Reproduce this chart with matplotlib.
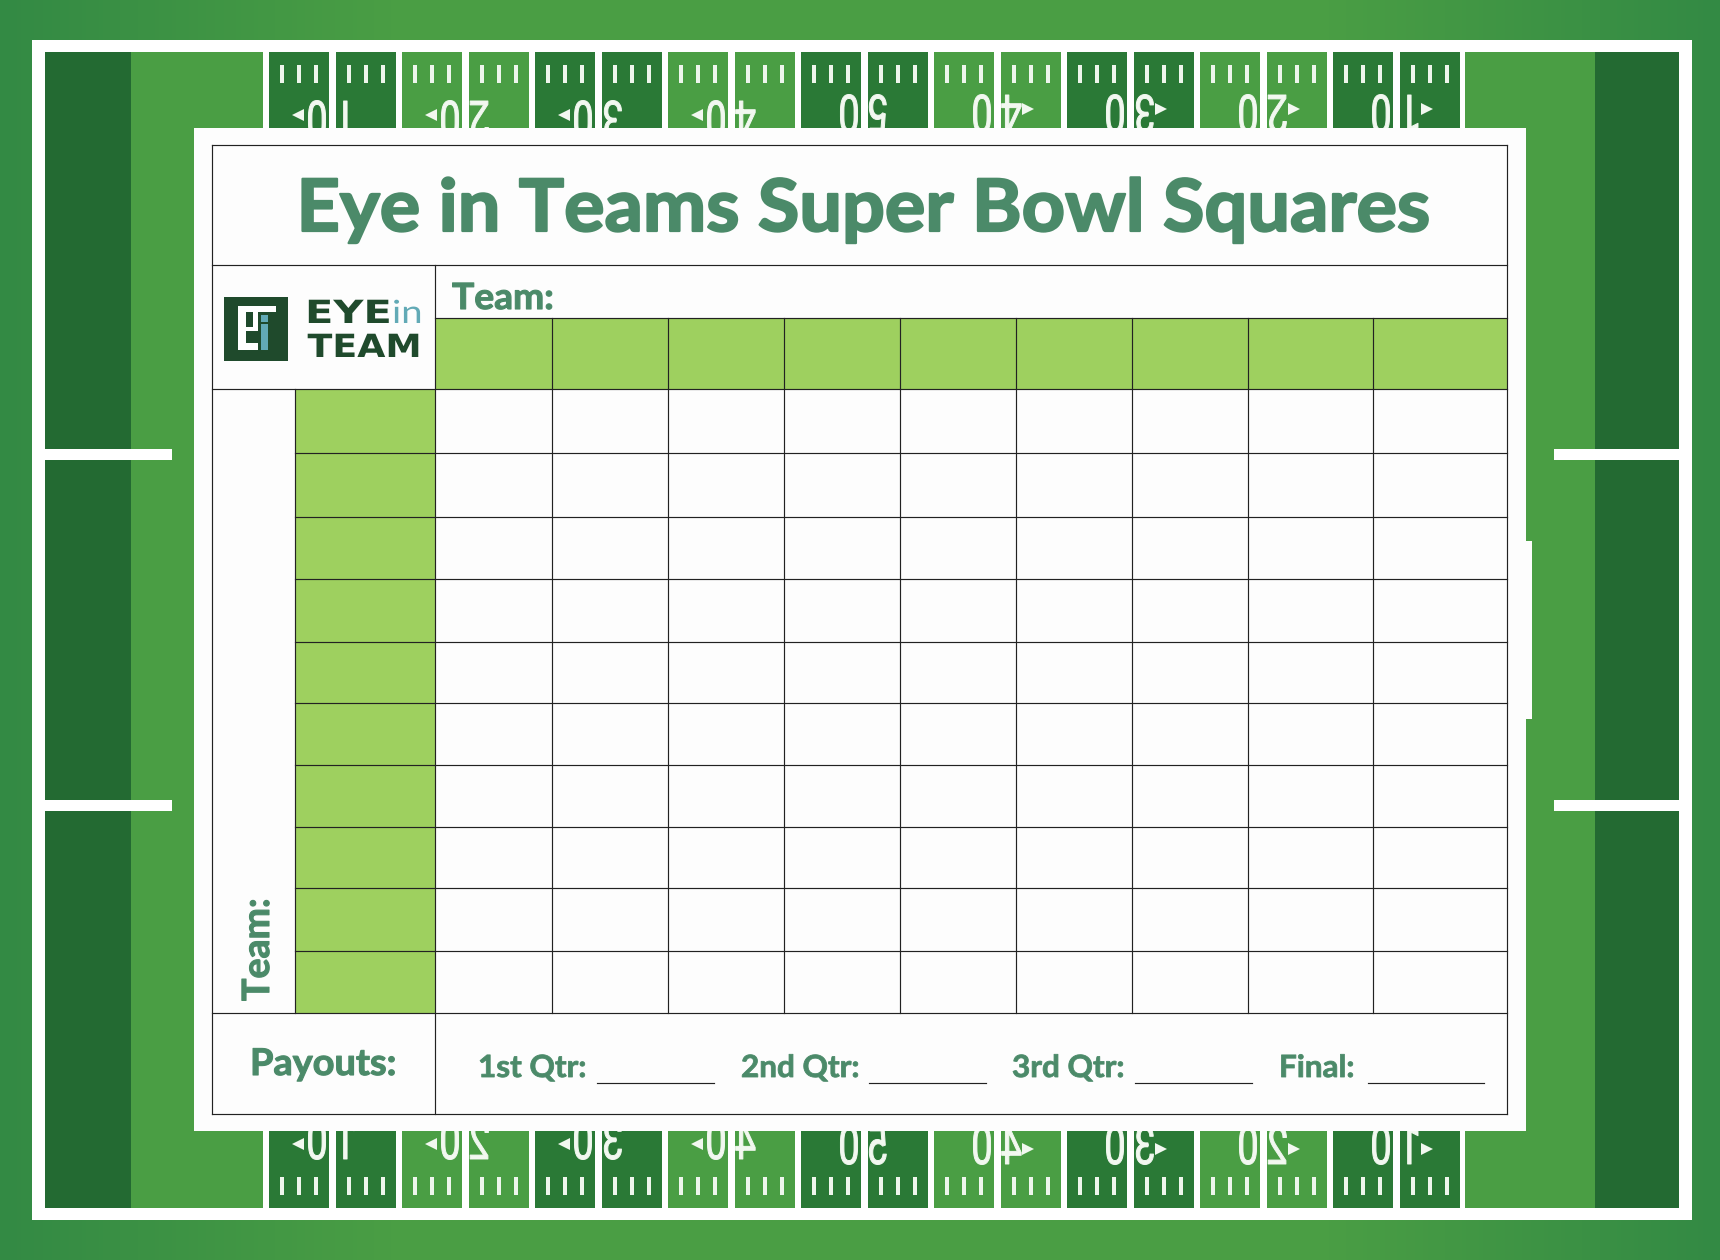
import numpy as np
import matplotlib
matplotlib.use('Agg')
import matplotlib.pyplot as plt
from matplotlib.patches import Rectangle
from matplotlib.patheffects import AbstractPathEffect
from matplotlib.transforms import Affine2D

# Everything is laid out in reference pixels, the axes fill the whole figure
W, H = 1720, 1260

title = 'Eye in Teams Super Bowl Squares'
team_label = 'Team:'
payouts_label = 'Payouts:'
quarter_labels = ['1st Qtr:', '2nd Qtr:', '3rd Qtr:', 'Final:']
quarter_text_x = [478, 741, 1012, 1279]
quarter_line_x = [(597, 714), (869, 986), (1135, 1252), (1368, 1484)]

yard_numbers = [10, 20, 30, 40, 50, 40, 30, 20, 10]
arrow_sides = ['left', 'left', 'left', 'left', None, 'right', 'right', 'right', 'right']

col_lines = [435.2, 552, 668, 784, 900, 1016, 1132, 1248, 1373, 1507.3]
row_lines = [389.3, 452.9, 516.5, 579, 641.5, 702.9, 765.4, 826.8, 888.3, 950.8, 1012.5]

GREEN_BG = '#4a9e44'
GREEN_EDGE = '#338a44'
TILE_DARK = '#2a7936'
BAND_DARK = '#236a32'
CELL_GREEN = '#9ed05f'
TEXT_GREEN = '#4b8a69'
LOGO_DARK = '#1f4a2c'
LOGO_TEAL = '#62aab6'
CARD = '#fdfdfd'
LINE = '#222222'
FONT = 'Lato'


class ScaleX(AbstractPathEffect):
    # squeeze or mirror a real text object around a vertical line in display space,
    # stroke thickens the glyphs a bit
    def __init__(self, cx, sx, stroke=0):
        super().__init__()
        self.cx = cx
        self.sx = sx
        self.stroke = stroke

    def draw_path(self, renderer, gc, tpath, affine, rgbFace=None):
        flip = Affine2D().translate(-self.cx, 0).scale(self.sx, 1).translate(self.cx, 0)
        gc0 = renderer.new_gc()
        gc0.copy_properties(gc)
        gc0.set_linewidth(self.stroke)
        gc0.set_foreground(rgbFace)
        renderer.draw_path(gc0, tpath, affine + flip, rgbFace)
        gc0.restore()


def rect(ax, x0, y0, x1, y1, color, z=1):
    ax.add_patch(Rectangle((x0, y0), x1 - x0, y1 - y0, facecolor=color, edgecolor='none', zorder=z))


def yard_digit(ax, x, y, digit, top):
    if top:
        effect = ScaleX(x, 0.72, 0.7)
        ax.text(x, y, digit, rotation=180, rotation_mode='anchor', ha='center', va='baseline',
                fontsize=38, color='#f2f8f0', family='Roboto', path_effects=[effect], zorder=3)
    else:
        effect = ScaleX(x, -0.72, 0.7)
        ax.text(x, y, digit, ha='center', va='baseline', fontsize=38, color='#f2f8f0',
                family='Roboto', path_effects=[effect], zorder=3)


def draw_background(ax):
    edge = np.array(matplotlib.colors.to_rgb(GREEN_EDGE))
    mid = np.array(matplotlib.colors.to_rgb(GREEN_BG))
    t = 1 - np.abs(np.linspace(-1, 1, 400))
    t = np.clip(t * 2.2, 0, 1)[None, :, None]
    ax.imshow(edge + (mid - edge) * t, extent=(0, W, H, 0), aspect='auto', zorder=0)


def draw_field(ax):
    rect(ax, 32, 39.5, 1691.7, 1220, 'white')
    rect(ax, 44.6, 51.7, 131, 1208.3, BAND_DARK, 2)
    rect(ax, 131, 51.7, 263, 1208.3, GREEN_BG, 2)
    rect(ax, 1465.3, 51.7, 1595, 1208.3, GREEN_BG, 2)
    rect(ax, 1595, 51.7, 1679.3, 1208.3, BAND_DARK, 2)

    # hash lines on both sidelines
    for y0, y1 in [(449, 459.5), (800, 810.7)]:
        rect(ax, 44.6, y0, 172, y1, 'white', 3)
        rect(ax, 1554, y0, 1679.3, y1, 'white', 3)

    # yard tiles, two per number, top and bottom row
    for i, number in enumerate(yard_numbers):
        color = TILE_DARK if i % 2 == 0 else GREEN_BG
        left = 269 + 133 * i
        for j in range(2):
            x0 = left + 66.5 * j
            rect(ax, x0, 51.7, x0 + 60, 128.5, color, 2)
            rect(ax, x0, 1131, x0 + 60, 1208.3, color, 2)
            for off in [13, 30, 47]:
                rect(ax, x0 + off - 2, 65, x0 + off + 2, 83.3, '#eef6ec', 3)
                rect(ax, x0 + off - 2, 1176.7, x0 + off + 2, 1195, '#eef6ec', 3)

        # left half sits a little lower at the top and higher at the bottom
        right_half = i >= 4
        top_base = 95 if right_half else 101
        bot_base = 1164 if right_half else 1159
        tens = str(number)[0]
        yard_digit(ax, left + 48, top_base, '0', True)
        yard_digit(ax, left + 66.5 + 11, top_base, tens, True)
        yard_digit(ax, left + 48, bot_base, '0', False)
        yard_digit(ax, left + 66.5 + 11, bot_base, tens, False)

        side = arrow_sides[i]
        if side == 'left':
            ax.plot([left + 29, left + 29], [115, 1144], ls='none', marker='<', ms=8,
                    color='#f2f8f0', mew=0, zorder=3)
        elif side == 'right':
            ax.plot([left + 66.5 + 27] * 2, [109, 1149], ls='none', marker='>', ms=8,
                    color='#f2f8f0', mew=0, zorder=3)


def draw_card(ax):
    rect(ax, 194, 128.3, 1526, 1131.3, CARD, 4)
    rect(ax, 1526, 541, 1531.7, 719, CARD, 4)

    # green header and side cells
    rect(ax, col_lines[0], 318.3, col_lines[-1], row_lines[0], CELL_GREEN, 5)
    rect(ax, 294.7, row_lines[0], col_lines[0], row_lines[-1], CELL_GREEN, 5)

    kw = dict(color=LINE, lw=0.85, zorder=6, solid_capstyle='projecting')
    left, right = 212.2, col_lines[-1]
    top, bottom = 145.3, 1114
    for x in [left, right]:
        ax.plot([x, x], [top, bottom], **kw)
    for y in [top, 265, bottom]:
        ax.plot([left, right], [y, y], **kw)
    ax.plot([left, right], [row_lines[0]] * 2, **kw)
    ax.plot([left, right], [row_lines[-1]] * 2, **kw)
    ax.plot([col_lines[0], right], [318.3, 318.3], **kw)
    ax.plot([col_lines[0]] * 2, [265, bottom], **kw)
    ax.plot([294.7, 294.7], [row_lines[0], row_lines[-1]], **kw)
    for x in col_lines[1:-1]:
        ax.plot([x, x], [318.3, row_lines[-1]], **kw)
    for y in row_lines[1:-1]:
        ax.plot([294.7, right], [y, y], **kw)

    txt = dict(va='baseline', fontweight='bold', color=TEXT_GREEN, family=FONT, zorder=7)
    ax.text(863, 231, title, ha='center', fontsize=52,
            path_effects=[ScaleX(863, 1.047, 1.6)], **txt)
    ax.text(452, 309, team_label, ha='left', fontsize=26,
            path_effects=[ScaleX(452, 1.03, 0.8)], **txt)
    ax.text(269, 1001, team_label, rotation=90, rotation_mode='anchor', ha='left', fontsize=27,
            path_effects=[ScaleX(269, 1.0, 0.8)], **txt)
    ax.text(250, 1075, payouts_label, ha='left', fontsize=26.5,
            path_effects=[ScaleX(250, 1.03, 0.8)], **txt)
    for label, tx, (x0, x1) in zip(quarter_labels, quarter_text_x, quarter_line_x):
        ax.text(tx, 1077, label, ha='left', fontsize=22,
                path_effects=[ScaleX(tx, 1.03, 0.6)], **txt)
        ax.plot([x0, x1], [1083, 1083], color='#222222', lw=0.85, zorder=6)


def draw_logo(ax):
    rect(ax, 224, 296.7, 288.4, 360.7, LOGO_DARK, 7)
    # E mark
    rect(ax, 238.3, 305.7, 245.7, 350, 'white', 8)
    rect(ax, 238.3, 305.7, 276, 312.3, 'white', 8)
    rect(ax, 245, 327, 258, 331, 'white', 8)
    rect(ax, 238.3, 343, 258, 350, 'white', 8)
    rect(ax, 253, 312, 258, 328, 'white', 8)
    rect(ax, 261, 315, 268, 322, LOGO_TEAL, 8)
    rect(ax, 261, 324, 268, 350, LOGO_TEAL, 8)
    ax.text(305, 323, 'EYE', ha='left', va='baseline', fontsize=23, fontweight='bold',
            color=LOGO_DARK, family='DejaVu Sans', zorder=8, path_effects=[ScaleX(305, 1.3)])
    ax.text(392, 323, 'in', ha='left', va='baseline', fontsize=23, color=LOGO_TEAL,
            family='Lato', zorder=8, path_effects=[ScaleX(392, 1.2)])
    ax.text(307.5, 357, 'TEAM', ha='left', va='baseline', fontsize=23, fontweight='bold',
            color=LOGO_DARK, family='DejaVu Sans', zorder=8, path_effects=[ScaleX(307.5, 1.14)])


def main():
    fig = plt.figure(figsize=(W / 100, H / 100), dpi=100)
    ax = fig.add_axes([0, 0, 1, 1])
    draw_background(ax)
    draw_field(ax)
    draw_card(ax)
    draw_logo(ax)
    ax.set_xlim(0, W)
    ax.set_ylim(H, 0)
    ax.axis('off')
    fig.savefig('out.png', dpi=100)


if __name__ == "__main__":
    main()
